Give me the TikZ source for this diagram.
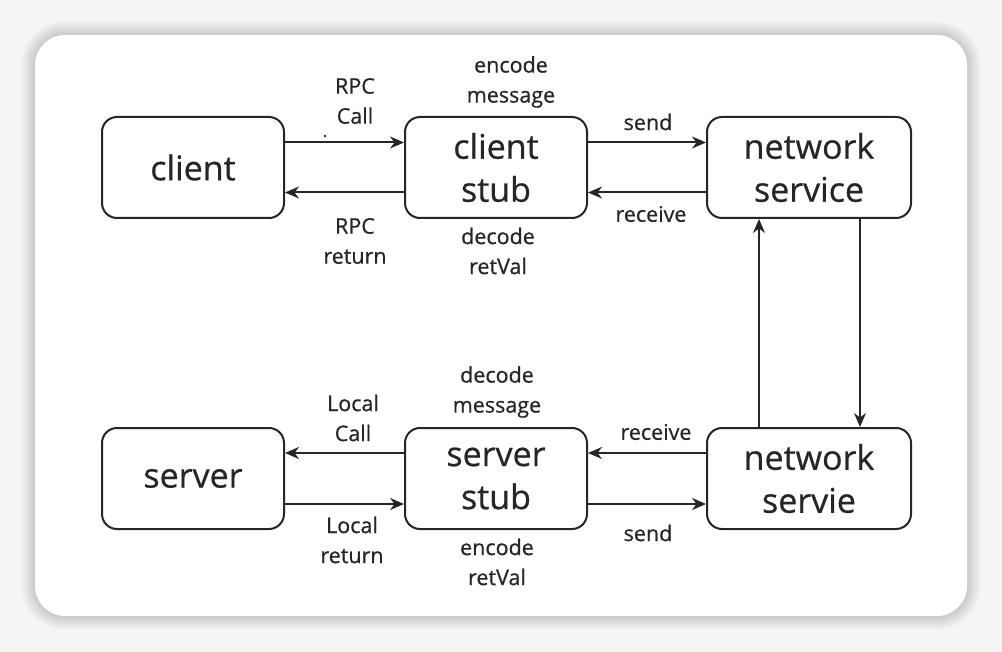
\documentclass[tikz,border=0pt]{standalone}
\usepackage{fontspec}
\setmainfont{Open Sans}[FakeBold=0.6]
\usetikzlibrary{arrows.meta}
\definecolor{ink}{HTML}{262626}
\begin{document}
\begin{tikzpicture}[x=1pt,y=-1pt,
  box/.style={draw=ink, line width=2pt, rounded corners=15pt, minimum height=101pt,
    align=center, inner sep=0pt, text=ink, font=\fontsize{34}{43}\selectfont},
  lbl/.style={align=center, inner sep=0pt, text=ink, font=\fontsize{21.5}{30}\selectfont},
  arr/.style={draw=ink, line width=2pt, -{Stealth[length=14pt,width=12pt]}}]
\useasboundingbox (0,0) rectangle (1002,652);
\fill[black!4] (0,0) rectangle (1002,652);
\foreach \i in {1,...,14}{
  \fill[black, opacity=0.012, rounded corners={30pt+\i pt}] (35-\i,35-\i) rectangle (967+\i,616+\i);
}
\fill[white, rounded corners=30pt] (35,35) rectangle (967,616);

\node[box, minimum width=182pt] (client) at (193,167.5) {client};
\node[box, minimum width=182pt] (cstub) at (496,167.5) {client\\stub};
\node[box, minimum width=204pt] (netsvc) at (809,167.5) {network\\service};
\node[box, minimum width=182pt] (server) at (193,478.5) {server};
\node[box, minimum width=182pt] (sstub) at (496,478.5) {server\\stub};
\node[box, minimum width=204pt] (netsv2) at (809,478.5) {network\\servie};

\draw[arr] ([yshift=25pt]client.east) -- ([yshift=25pt]cstub.west);
\draw[arr] ([yshift=-25pt]cstub.west) -- ([yshift=-25pt]client.east);
\draw[arr] ([yshift=25pt]cstub.east) -- ([yshift=25pt]netsvc.west);
\draw[arr] ([yshift=-25pt]netsvc.west) -- ([yshift=-25pt]cstub.east);
\draw[arr] ([xshift=-50pt]netsv2.north) -- ([xshift=-50pt]netsvc.south);
\draw[arr] ([xshift=51pt]netsvc.south) -- ([xshift=51pt]netsv2.north);
\draw[arr] ([yshift=25.5pt]sstub.west) -- ([yshift=25.5pt]server.east);
\draw[arr] ([yshift=-25.5pt]server.east) -- ([yshift=-25.5pt]sstub.west);
\draw[arr] ([yshift=25.5pt]netsv2.west) -- ([yshift=25.5pt]sstub.east);
\draw[arr] ([yshift=-25.5pt]sstub.east) -- ([yshift=-25.5pt]netsv2.west);

\node[lbl] (l1) at (355,101) {RPC\\Call};
\node[lbl] (l2) at (355,241) {RPC\\return};
\node[lbl] (l3) at (511,82) {encode\\message};
\node[lbl] (l4) at (498,251) {decode\\retVal};
\node[lbl] (l5) at (648,122) {send};
\node[lbl] (l6) at (651,214) {receive};
\node[lbl] (l7) at (497,392) {decode\\message};
\node[lbl] (l8) at (353,418) {Local\\Call};
\node[lbl] (l9) at (656,432) {receive};
\node[lbl] (l10) at (352,540) {Local\\return};
\node[lbl] (l11) at (497,562) {encode\\retVal};
\node[lbl] (l12) at (648,533) {send};
\fill[ink] (325,136) circle (1.3pt);
\end{tikzpicture}
\end{document}
